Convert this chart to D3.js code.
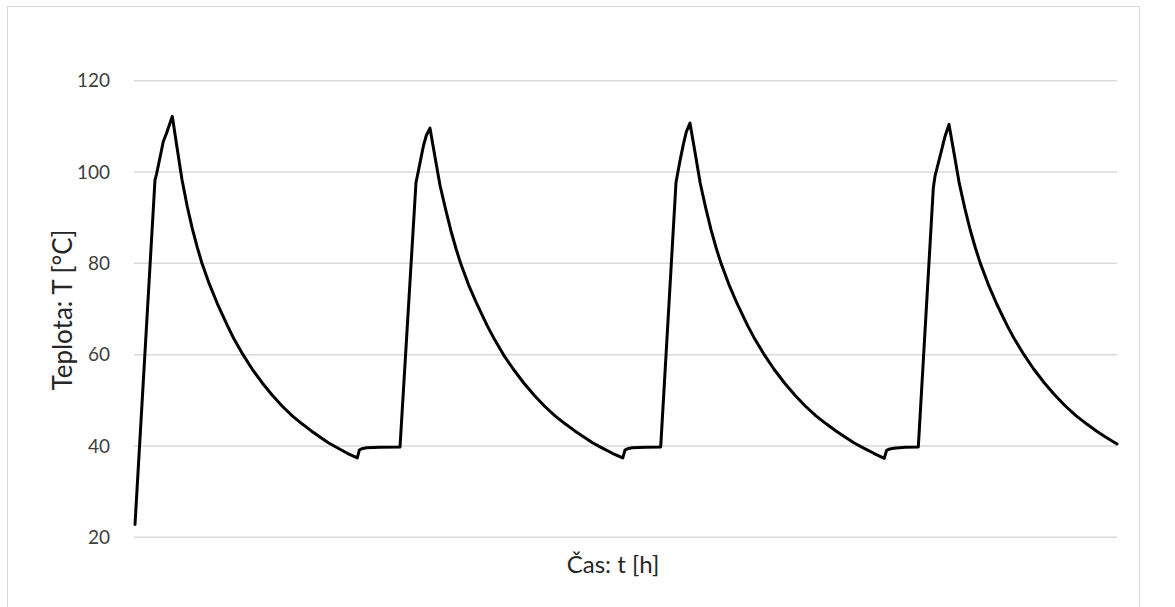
<!DOCTYPE html>
<html>
<head>
<meta charset="utf-8">
<script src="https://cdn.jsdelivr.net/npm/d3@7"></script>
<style>
  html, body { margin: 0; padding: 0; background: #fff; }
  svg { display: block; }
  text { font-family: Lato, "Open Sans", sans-serif; }
</style>
</head>
<body>
<svg id="chart" width="1175" height="607"></svg>
<script>
// ---- data (time in hours, temperature in °C) ----
const yTicks = [20, 40, 60, 80, 100, 120];
const yTitle = "Teplota: T [°C]";
const xTitle = "Čas: t [h]";

const cycle1Time = [0, 1.833, 1.970, 2.154, 2.594, 2.906, 3.419, 3.877, 4.308, 4.793, 5.252, 5.710, 6.113, 6.810, 7.543, 8.459, 9.101, 9.898, 10.751, 11.667, 12.584, 13.500, 14.417, 15.333, 16.158, 16.983, 17.716, 18.541, 19.457, 20.374, 20.557, 20.777, 21.235, 22.454, 24.287];
const cycle1Temp = [22.8, 98.3, 99.5, 101.6, 106.7, 108.6, 112.2, 105, 98.3, 92.4, 87.6, 83.5, 80.2, 75.5, 71.2, 66.4, 63.3, 60, 56.8, 53.8, 51.1, 48.7, 46.6, 44.8, 43.3, 41.9, 40.7, 39.6, 38.4, 37.4, 39.1, 39.4, 39.6, 39.7, 39.75];

const cycle2Time = [25.753, 25.891, 26.120, 26.422, 26.697, 27.037, 27.514, 27.963, 28.469, 28.947, 29.424, 29.844, 30.570, 31.334, 32.289, 32.957, 33.789, 34.677, 35.632, 36.587, 37.542, 38.497, 39.452, 40.312, 41.171, 41.935, 42.794, 43.749, 44.704, 44.909, 45.138, 45.551, 46.742, 48.181];
const cycle2Temp = [97.7, 99.3, 102.0, 105.6, 108.0, 109.6, 103, 97, 91.8, 87.2, 83.2, 80, 75.3, 71.1, 66.3, 63.3, 59.9, 56.8, 53.8, 51.1, 48.7, 46.6, 44.8, 43.3, 41.9, 40.7, 39.6, 38.4, 37.4, 39.1, 39.4, 39.6, 39.7, 39.8];

const cycle3Time = [49.583, 49.720, 49.950, 50.252, 50.527, 50.866, 51.347, 51.800, 52.310, 52.791, 53.272, 53.695, 54.427, 55.197, 56.159, 56.832, 57.670, 58.565, 59.527, 60.489, 61.452, 62.414, 63.376, 64.242, 65.109, 65.879, 66.745, 67.707, 68.669, 68.875, 69.104, 69.517, 70.571, 71.790];
const cycle3Temp = [97.7, 99.5, 102.5, 106.0, 108.8, 110.7, 104, 97.6, 92.1, 87.4, 83.3, 80.1, 75.4, 71.1, 66.3, 63.3, 60, 56.8, 53.8, 51.1, 48.7, 46.6, 44.8, 43.3, 41.9, 40.7, 39.6, 38.4, 37.3, 39.0, 39.3, 39.5, 39.7, 39.8];

const cycle4Time = [73.165, 73.321, 73.935, 74.237, 74.604, 75.090, 75.546, 76.061, 76.547, 77.032, 77.460, 78.199, 78.976, 79.947, 80.627, 81.472, 82.376, 83.347, 84.319, 85.290, 86.262, 87.233, 88.108, 88.982, 90];
const cycle4Temp = [96.5, 99.1, 104.9, 107.8, 110.4, 103.8, 97.5, 92.0, 87.3, 83.3, 80.1, 75.4, 71.1, 66.3, 63.3, 60, 56.8, 53.8, 51.1, 48.7, 46.6, 44.8, 43.3, 41.9, 40.45];

// ---- build series ----
const times = [].concat(cycle1Time, cycle2Time, cycle3Time, cycle4Time);
const temps = [].concat(cycle1Temp, cycle2Temp, cycle3Temp, cycle4Temp);
const series = times.map((t, i) => ({ t, v: temps[i] }));

const svg = d3.select("#chart");

// chart border
svg.append("rect")
  .attr("x", 7.5).attr("y", 6.5)
  .attr("width", 1132).attr("height", 620)
  .attr("fill", "none").attr("stroke", "#d9d9d9").attr("stroke-width", 1);

const x = d3.scaleLinear().domain([0, 90]).range([135, 1117]);
const y = d3.scaleLinear().domain([20, 120]).range([537.3, 80.7]);

// gridlines
svg.append("g")
  .selectAll("line").data(yTicks).join("line")
  .attr("x1", 134).attr("x2", 1117)
  .attr("y1", d => y(d)).attr("y2", d => y(d))
  .attr("stroke", "#d9d9d9").attr("stroke-width", 1.5);

// y axis labels
const yAxis = d3.axisLeft(y).tickValues(yTicks).tickSize(0).tickPadding(0);
const gy = svg.append("g").attr("transform", "translate(110,0)").call(yAxis);
gy.select(".domain").remove();
gy.selectAll("text")
  .attr("font-family", "Lato, 'Open Sans', sans-serif")
  .attr("font-size", 19)
  .attr("fill", "#404040");

// line
const line = d3.line().x(d => x(d.t)).y(d => y(d.v)).curve(d3.curveLinear);
svg.append("path")
  .datum(series)
  .attr("d", line)
  .attr("fill", "none")
  .attr("stroke", "#000")
  .attr("stroke-width", 3)
  .attr("stroke-linejoin", "round")
  .attr("stroke-linecap", "round");

// axis titles
svg.append("text")
  .attr("transform", "translate(72,310) rotate(-90)")
  .attr("text-anchor", "middle")
  .attr("font-size", 26)
  .attr("fill", "#262626")
  .text(yTitle);

svg.append("text")
  .attr("x", 613).attr("y", 573)
  .attr("text-anchor", "middle")
  .attr("font-size", 24)
  .attr("fill", "#262626")
  .text(xTitle);
</script>
</body>
</html>
